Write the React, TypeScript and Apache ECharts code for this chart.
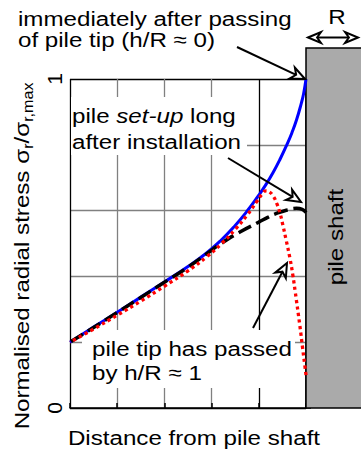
import { useEffect, useRef } from 'react';
import * as echarts from 'echarts';

const FONT = '"Liberation Sans", Arial, Helvetica, sans-serif';
const STRETCH = 1.15;
const GRID_GREY = '#808080';

// distance from the pile shaft (in pile radii) and normalised radial stress
const passingDist = [0, 0.05, 0.1, 0.2, 0.3, 0.4, 0.55, 0.7, 0.85, 1.0, 1.25, 1.5, 1.8, 2.1, 2.5, 3.0, 3.5, 4.0, 4.5, 5.0];
const passingStress = [1.0, 0.956, 0.926, 0.876, 0.836, 0.802, 0.756, 0.715, 0.679, 0.647, 0.598, 0.555, 0.51, 0.472, 0.43, 0.383, 0.337, 0.291, 0.246, 0.2];

const setupDist = [0, 0.08, 0.2, 0.4, 0.65, 0.8, 1.0, 1.4, 1.8, 2.1, 2.5, 3.0, 3.5, 4.0, 4.5, 5.0];
const setupStress = [0.594, 0.604, 0.607, 0.602, 0.59, 0.58, 0.565, 0.535, 0.5, 0.469, 0.428, 0.382, 0.336, 0.29, 0.245, 0.2];

const passedDist = [0, 0.03, 0.07, 0.13, 0.23, 0.28, 0.34, 0.42, 0.49, 0.55, 0.62, 0.7, 0.78, 0.85, 0.93, 1.04, 1.25, 1.5, 1.8, 2.1, 2.5, 3.0, 3.5, 4.0, 4.5, 5.0];
const passedStress = [0.1, 0.135, 0.18, 0.25, 0.355, 0.405, 0.455, 0.51, 0.556, 0.592, 0.622, 0.645, 0.657, 0.66, 0.65, 0.628, 0.586, 0.543, 0.498, 0.46, 0.417, 0.37, 0.325, 0.282, 0.24, 0.2];

const stressLabels = [0, 1];

const pairs = (xs: number[], ys: number[]) => xs.map((x, i) => [x, ys[i]]);

type Pt = [number, number];

// line with a stealth-style outlined arrowhead at `tip`
function arrow(from: Pt, tip: Pt, len = 14, half = 6): any[] {
  const dx = tip[0] - from[0];
  const dy = tip[1] - from[1];
  const l = Math.hypot(dx, dy);
  const ux = dx / l;
  const uy = dy / l;
  const px = -uy;
  const py = ux;
  const bx = tip[0] - ux * len;
  const by = tip[1] - uy * len;
  const notch: Pt = [tip[0] - ux * len * 0.7, tip[1] - uy * len * 0.7];
  return [
    {
      type: 'line',
      z: 20,
      shape: { x1: from[0], y1: from[1], x2: notch[0], y2: notch[1] },
      style: { stroke: '#000', lineWidth: 2 },
    },
    {
      type: 'polygon',
      z: 21,
      shape: {
        points: [tip, [bx + px * half, by + py * half], notch, [bx - px * half, by - py * half]],
      },
      style: { fill: '#fff', stroke: '#000', lineWidth: 2, lineJoin: 'miter' },
    },
  ];
}

function label(x: number, y: number, text: string, opts: any = {}): any {
  return {
    type: 'text',
    z: 15,
    x,
    y,
    rotation: opts.rotation || 0,
    scaleX: STRETCH,
    style: {
      text,
      fontSize: 21,
      fontFamily: FONT,
      fill: '#000',
      align: opts.align || 'left',
      verticalAlign: 'middle',
      rich: opts.rich,
    },
  };
}

const curve = (name: string, xs: number[], ys: number[], z: number, lineStyle: any) => ({
  name,
  type: 'line',
  data: pairs(xs, ys),
  smooth: 0.5,
  symbol: 'none',
  clip: false,
  z,
  lineStyle,
});

export default function App() {
  const ref = useRef<HTMLDivElement>(null);

  useEffect(() => {
    if (!ref.current) return;
    const chart = echarts.init(ref.current, undefined, { renderer: 'svg' });

    const subRich = {
      n: { fontSize: 21, fontFamily: FONT, lineHeight: 26 },
      s: { fontSize: 14, fontFamily: FONT, lineHeight: 14, verticalAlign: 'bottom' },
    };

    chart.setOption({
      animation: false,
      backgroundColor: '#fff',
      grid: { left: 70, right: 55, top: 79, bottom: 47, outerBoundsMode: 'none' },
      xAxis: {
        type: 'value',
        min: 0,
        max: 5,
        interval: 1,
        inverse: true,
        axisLine: { show: true, lineStyle: { color: '#000', width: 1.5 } },
        axisTick: { show: true, inside: true, length: 5, lineStyle: { color: '#000', width: 1.5 } },
        axisLabel: { show: false },
        splitLine: {
          show: true,
          lineStyle: { color: ['#000', '#000', GRID_GREY, GRID_GREY, GRID_GREY, '#000'], width: 1.3 },
        },
      },
      yAxis: {
        type: 'value',
        min: 0,
        max: 1,
        interval: 0.2,
        axisLine: { show: true, lineStyle: { color: '#000', width: 1.5 } },
        axisTick: { show: true, inside: true, length: 5, lineStyle: { color: '#000', width: 1.5 } },
        axisLabel: {
          show: true,
          rotate: 90,
          margin: 5,
          fontSize: 21,
          fontFamily: FONT,
          color: '#000',
          formatter: (v: number) => (stressLabels.some((t) => Math.abs(t - v) < 1e-9) ? String(Math.round(v)) : ''),
        },
        splitLine: {
          show: true,
          lineStyle: { color: ['#000', GRID_GREY, GRID_GREY, GRID_GREY, GRID_GREY, '#000'], width: 1.3 },
        },
      },
      series: [
        curve('immediately after passing', passingDist, passingStress, 3, { color: '#0000ff', width: 3 }),
        curve('set-up', setupDist, setupStress, 4, { color: '#000', width: 3.5, type: [14, 6], cap: 'butt' }),
        curve('tip passed', passedDist, passedStress, 5, { color: '#ff0000', width: 3.3, type: [3.3, 3.3], cap: 'butt' }),
      ],
      graphic: {
        elements: [
          // white backing behind the annotations inside the plot
          { type: 'rect', z: 1, shape: { x: 71, y: 97, width: 176, height: 58 }, style: { fill: '#fff' } },
          { type: 'rect', z: 1, shape: { x: 82, y: 330, width: 213, height: 58 }, style: { fill: '#fff' } },
          // pile shaft
          {
            type: 'rect',
            z: 1,
            shape: { x: 306, y: 48, width: 70, height: 360 },
            style: { fill: '#aaaaaa', stroke: '#000', lineWidth: 1.5 },
          },
          label(336, 237, 'pile shaft', { rotation: Math.PI / 2, align: 'center' }),
          label(337, 17, 'R', { align: 'center' }),
          ...arrow([333, 37.5], [308, 37.5], 13, 5.5),
          ...arrow([333, 37.5], [358, 37.5], 13, 5.5),

          label(18, 19, 'immediately after passing'),
          label(18, 40, 'of pile tip (h/R ≈ 0)'),
          ...arrow([237, 47], [305, 79]),

          label(72, 116.5, '{n|pile }{i|set-up}{n| long}', {
            rich: {
              n: { fontSize: 21, fontFamily: FONT },
              i: { fontSize: 21, fontFamily: FONT, fontStyle: 'italic' },
            },
          }),
          label(72, 142.5, 'after installation'),
          ...arrow([228, 158], [301, 202]),

          label(92, 349, 'pile tip has passed'),
          label(92, 373.5, 'by h/R ≈ 1'),
          ...arrow([253, 328], [287, 263]),

          label(194, 438, 'Distance from pile shaft', { align: 'center' }),
          label(22, 256, '{n|Normalised radial stress σ}{s|r}{n|/σ}{s|r,max}', {
            rotation: Math.PI / 2,
            align: 'center',
            rich: subRich,
          }),
        ],
      },
    });

    return () => chart.dispose();
  }, []);

  return <div ref={ref} style={{ position: 'fixed', left: 0, top: 0, width: 361, height: 455 }} />;
}
